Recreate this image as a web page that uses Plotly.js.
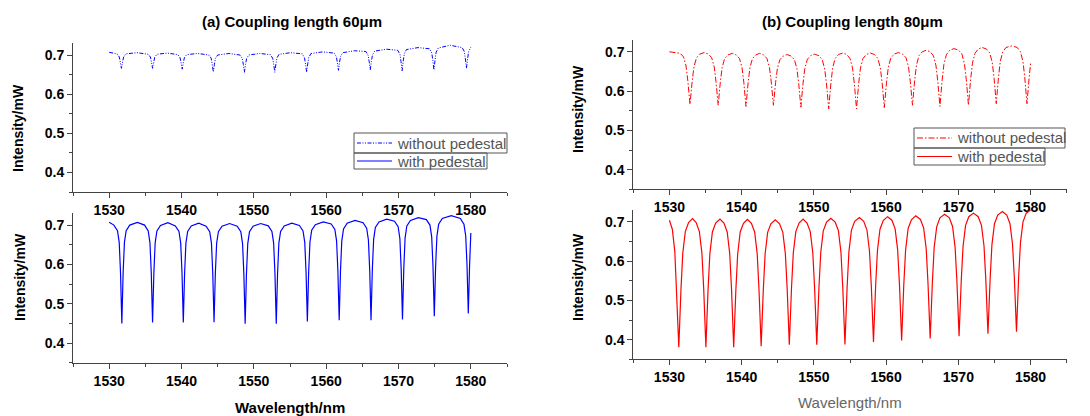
<!DOCTYPE html>
<html>
<head>
<meta charset="utf-8">
<script src="https://cdn.plot.ly/plotly-3.0.1.min.js"></script>
<style>html,body{margin:0;padding:0;background:#fff;}#chart{width:1090px;height:416px;}</style>
</head>
<body>
<div id="chart"></div>
<script>
// ---------- data ----------
const panelTitles = ['(a) Coupling length 60\u03bcm', '(b) Coupling length 80\u03bcm'];
const seriesNames = ['without pedestal', 'with pedestal'];
const xTickVals = [1530, 1540, 1550, 1560, 1570, 1580];
const yTickVals = [0.4, 0.5, 0.6, 0.7];

// (a) 60 um, without pedestal
const a60WithoutX = [1530,
 1531.1,1531.4,1531.55,1531.7,1531.85,1532.0,1532.3, 1533.85,
 1535.4,1535.7,1535.85,1536.0,1536.15,1536.3,1536.6, 1538.05,
 1539.5,1539.8,1539.95,1540.1,1540.25,1540.4,1540.7, 1542.25,
 1543.8,1544.1,1544.25,1544.4,1544.55,1544.7,1545.0, 1546.55,
 1548.1,1548.4,1548.55,1548.7,1548.85,1549.0,1549.3, 1550.8,
 1552.3,1552.6,1552.75,1552.9,1553.05,1553.2,1553.5, 1555.1,
 1556.7,1557.0,1557.15,1557.3,1557.45,1557.6,1557.9, 1559.5,
 1561.1,1561.4,1561.55,1561.7,1561.85,1562.0,1562.3, 1563.9,
 1565.5,1565.8,1565.95,1566.1,1566.25,1566.4,1566.7, 1568.3,
 1569.9,1570.2,1570.35,1570.5,1570.65,1570.8,1571.1, 1572.7,
 1574.3,1574.6,1574.75,1574.9,1575.05,1575.2,1575.5, 1577.15,
 1578.8,1579.1,1579.25,1579.4,1579.55,1579.7,1580.0];
const a60WithoutY = [0.707,
 0.703,0.695,0.682,0.666,0.682,0.695,0.703, 0.706,
 0.702,0.695,0.682,0.666,0.681,0.694,0.702, 0.705,
 0.701,0.693,0.680,0.664,0.680,0.693,0.701, 0.704,
 0.700,0.692,0.676,0.657,0.676,0.692,0.700, 0.704,
 0.700,0.691,0.676,0.656,0.676,0.691,0.700, 0.704,
 0.701,0.692,0.676,0.656,0.677,0.693,0.702, 0.706,
 0.703,0.693,0.677,0.656,0.677,0.694,0.704, 0.708,
 0.705,0.696,0.681,0.661,0.682,0.697,0.706, 0.711,
 0.709,0.699,0.683,0.662,0.684,0.700,0.710, 0.715,
 0.712,0.702,0.683,0.660,0.684,0.703,0.714, 0.719,
 0.716,0.705,0.686,0.662,0.687,0.707,0.718, 0.725,
 0.719,0.709,0.690,0.666,0.690,0.709,0.720];

// (a) 60 um, with pedestal
const a60WithX = [1530,
 1530.65,1531.15,1531.39,1531.57,1531.75,1531.93,1532.11,1532.35,1532.85, 1533.9,
 1534.9,1535.4,1535.64,1535.82,1536.0,1536.18,1536.36,1536.6,1537.1, 1538.12,
 1539.15,1539.65,1539.89,1540.07,1540.25,1540.43,1540.61,1540.85,1541.35, 1542.38,
 1543.4,1543.9,1544.14,1544.32,1544.5,1544.68,1544.86,1545.1,1545.6, 1546.65,
 1547.7,1548.2,1548.44,1548.62,1548.8,1548.98,1549.16,1549.4,1549.9, 1550.95,
 1552.0,1552.5,1552.74,1552.92,1553.1,1553.28,1553.46,1553.7,1554.2, 1555.25,
 1556.3,1556.8,1557.04,1557.22,1557.4,1557.58,1557.76,1558.0,1558.5, 1559.6,
 1560.7,1561.2,1561.44,1561.62,1561.8,1561.98,1562.16,1562.4,1562.9, 1564.0,
 1565.1,1565.6,1565.84,1566.02,1566.2,1566.38,1566.56,1566.8,1567.3, 1568.38,
 1569.45,1569.95,1570.19,1570.37,1570.55,1570.73,1570.91,1571.15,1571.65, 1572.75,
 1573.85,1574.35,1574.59,1574.77,1574.95,1575.13,1575.31,1575.55,1576.05, 1577.3,
 1578.55,1579.05,1579.29,1579.47,1579.65,1579.83,1580.0];
const a60WithY = [0.707,
 0.700,0.686,0.656,0.579,0.450,0.579,0.656,0.686,0.700, 0.707,
 0.700,0.685,0.655,0.579,0.452,0.579,0.655,0.685,0.699, 0.706,
 0.698,0.684,0.654,0.578,0.452,0.578,0.654,0.684,0.698, 0.705,
 0.697,0.683,0.654,0.578,0.453,0.578,0.654,0.683,0.697, 0.704,
 0.697,0.683,0.653,0.576,0.449,0.576,0.653,0.683,0.697, 0.704,
 0.698,0.684,0.654,0.577,0.449,0.577,0.654,0.684,0.698, 0.705,
 0.699,0.685,0.656,0.580,0.455,0.581,0.657,0.687,0.701, 0.708,
 0.703,0.689,0.660,0.584,0.458,0.584,0.660,0.690,0.705, 0.712,
 0.706,0.692,0.662,0.585,0.458,0.586,0.663,0.694,0.708, 0.715,
 0.710,0.696,0.666,0.588,0.460,0.589,0.667,0.698,0.712, 0.719,
 0.714,0.700,0.670,0.594,0.468,0.595,0.672,0.702,0.717, 0.724,
 0.717,0.702,0.673,0.599,0.475,0.599,0.680];

// (b) 80 um, without pedestal
const b80WithoutX = [1530,
 1531.5,1531.95,1532.3,1532.55,1532.85,1533.15,1533.4,1533.75,1534.2, 1534.8,
 1535.4,1535.85,1536.2,1536.45,1536.75,1537.05,1537.3,1537.65,1538.1, 1538.7,
 1539.25,1539.7,1540.05,1540.3,1540.6,1540.9,1541.15,1541.5,1541.95, 1542.5,
 1543.05,1543.5,1543.85,1544.1,1544.4,1544.7,1544.95,1545.3,1545.75, 1546.3,
 1546.85,1547.3,1547.65,1547.9,1548.2,1548.5,1548.75,1549.1,1549.55, 1550.1,
 1550.7,1551.15,1551.5,1551.75,1552.05,1552.35,1552.6,1552.95,1553.4, 1554.0,
 1554.55,1555.0,1555.35,1555.6,1555.9,1556.2,1556.45,1556.8,1557.25, 1557.8,
 1558.4,1558.85,1559.2,1559.45,1559.75,1560.05,1560.3,1560.65,1561.1, 1561.7,
 1562.3,1562.75,1563.1,1563.35,1563.65,1563.95,1564.2,1564.55,1565.0, 1565.55,
 1566.1,1566.55,1566.9,1567.15,1567.45,1567.75,1568.0,1568.35,1568.8, 1569.4,
 1570.05,1570.5,1570.85,1571.1,1571.4,1571.7,1571.95,1572.3,1572.75, 1573.3,
 1573.9,1574.35,1574.7,1574.95,1575.25,1575.55,1575.8,1576.15,1576.6, 1577.4,
 1578.15,1578.6,1578.95,1579.2,1579.5,1579.8,1580.0];
const b80WithoutY = [0.700,
 0.696,0.687,0.664,0.626,0.566,0.625,0.662,0.685,0.694, 0.698,
 0.694,0.685,0.662,0.624,0.564,0.623,0.660,0.683,0.692, 0.696,
 0.692,0.683,0.660,0.622,0.561,0.622,0.660,0.683,0.692, 0.696,
 0.692,0.683,0.660,0.623,0.564,0.622,0.658,0.680,0.689, 0.693,
 0.689,0.680,0.657,0.619,0.559,0.620,0.658,0.681,0.690, 0.694,
 0.690,0.680,0.656,0.618,0.555,0.619,0.659,0.683,0.693, 0.697,
 0.693,0.683,0.659,0.619,0.555,0.619,0.659,0.683,0.693, 0.697,
 0.693,0.683,0.659,0.621,0.558,0.621,0.660,0.684,0.694, 0.698,
 0.694,0.685,0.662,0.624,0.564,0.627,0.666,0.690,0.700, 0.704,
 0.700,0.690,0.665,0.625,0.561,0.627,0.668,0.693,0.704, 0.708,
 0.704,0.694,0.669,0.629,0.564,0.630,0.671,0.696,0.707, 0.711,
 0.707,0.697,0.672,0.632,0.568,0.634,0.675,0.700,0.711, 0.715,
 0.711,0.700,0.675,0.634,0.568,0.634,0.670];

// (b) 80 um, with pedestal
const b80WithX = [1530,
 1530.4,1530.75,1531.0,1531.3,1531.6,1531.85,1532.2,1532.65, 1533.2,
 1533.7,1534.15,1534.5,1534.75,1535.05,1535.35,1535.6,1535.95,1536.4, 1537.0,
 1537.55,1538.0,1538.35,1538.6,1538.9,1539.2,1539.45,1539.8,1540.25, 1540.8,
 1541.35,1541.8,1542.15,1542.4,1542.7,1543.0,1543.25,1543.6,1544.05, 1544.65,
 1545.25,1545.7,1546.05,1546.3,1546.6,1546.9,1547.15,1547.5,1547.95, 1548.5,
 1549.05,1549.5,1549.85,1550.1,1550.4,1550.7,1550.95,1551.3,1551.75, 1552.35,
 1552.95,1553.4,1553.75,1554.0,1554.3,1554.6,1554.85,1555.2,1555.65, 1556.3,
 1556.9,1557.35,1557.7,1557.95,1558.25,1558.55,1558.8,1559.15,1559.6, 1560.2,
 1560.8,1561.25,1561.6,1561.85,1562.15,1562.45,1562.7,1563.05,1563.5, 1564.1,
 1564.75,1565.2,1565.55,1565.8,1566.1,1566.4,1566.65,1567.0,1567.45, 1568.1,
 1568.75,1569.2,1569.55,1569.8,1570.1,1570.4,1570.65,1571.0,1571.45, 1572.1,
 1572.75,1573.2,1573.55,1573.8,1574.1,1574.4,1574.65,1575.0,1575.45, 1576.1,
 1576.7,1577.15,1577.5,1577.75,1578.05,1578.35,1578.6,1578.95,1579.4,1580.0];
const b80WithY = [0.704,
 0.681,0.624,0.531,0.381,0.528,0.620,0.675,0.698, 0.708,
 0.698,0.675,0.620,0.528,0.381,0.528,0.619,0.674,0.697, 0.707,
 0.697,0.674,0.619,0.528,0.381,0.527,0.618,0.674,0.696, 0.706,
 0.696,0.674,0.619,0.528,0.383,0.528,0.618,0.673,0.695, 0.705,
 0.695,0.673,0.619,0.530,0.387,0.531,0.621,0.675,0.697, 0.707,
 0.697,0.675,0.621,0.531,0.387,0.532,0.622,0.677,0.699, 0.709,
 0.699,0.677,0.622,0.532,0.388,0.533,0.624,0.679,0.701, 0.711,
 0.701,0.679,0.625,0.537,0.394,0.538,0.627,0.681,0.703, 0.713,
 0.704,0.682,0.628,0.540,0.398,0.541,0.629,0.683,0.705, 0.715,
 0.706,0.684,0.631,0.543,0.403,0.545,0.634,0.687,0.710, 0.719,
 0.710,0.688,0.635,0.549,0.409,0.550,0.637,0.691,0.713, 0.722,
 0.713,0.691,0.639,0.553,0.415,0.555,0.642,0.695,0.717, 0.726,
 0.717,0.695,0.643,0.558,0.420,0.560,0.647,0.700,0.722,0.730];

// ---------- layout helpers ----------
const W = 1090, H = 416;
const px = v => v / W;
const py = v => 1 - v / H;
const FONT = 'Arial, "Liberation Sans", Helvetica, sans-serif';
const BLUE = '#0000ff', RED = '#ff0000';
const DASH_DDOT = '4px,1.5px,1px,1.5px,1px,1.5px';
const DASH_DOT = '6px,2px,1.5px,2px';

function xAxis(domain, anchor) {
  return {
    domain: domain, anchor: anchor, range: [1525, 1585],
    tickmode: 'array', tickvals: xTickVals,
    ticks: 'outside', ticklen: 5, tickwidth: 1, tickcolor: '#444',
    showline: true, linecolor: '#444', linewidth: 1,
    showgrid: false, zeroline: false,
    tickfont: {family: FONT, size: 14, weight: 700, color: '#000'},
    minor: {tick0: 1525, dtick: 5, ticks: 'outside', ticklen: 3, tickcolor: '#444', showgrid: false}
  };
}
function yAxis(domain, anchor) {
  return {
    domain: domain, anchor: anchor, range: [0.35, 0.73],
    tickmode: 'array', tickvals: yTickVals, ticktext: yTickVals.map(v => v.toFixed(1)),
    ticks: 'outside', ticklen: 5, tickwidth: 1, tickcolor: '#444',
    showline: true, linecolor: '#444', linewidth: 1,
    showgrid: false, zeroline: false,
    tickfont: {family: FONT, size: 14, weight: 700, color: '#000'},
    minor: {tick0: 0.35, dtick: 0.05, ticks: 'outside', ticklen: 3, tickcolor: '#444', showgrid: false}
  };
}

const traces = [
  {x: a60WithoutX, y: a60WithoutY, xaxis: 'x', yaxis: 'y', name: seriesNames[0], mode: 'lines',
   line: {color: BLUE, width: 1, dash: DASH_DDOT}, showlegend: false},
  {x: a60WithX, y: a60WithY, xaxis: 'x2', yaxis: 'y2', name: seriesNames[1], mode: 'lines',
   line: {color: BLUE, width: 1.2}, showlegend: false},
  {x: b80WithoutX, y: b80WithoutY, xaxis: 'x3', yaxis: 'y3', name: seriesNames[0], mode: 'lines',
   line: {color: RED, width: 1, dash: DASH_DOT}, showlegend: false},
  {x: b80WithX, y: b80WithY, xaxis: 'x4', yaxis: 'y4', name: seriesNames[1], mode: 'lines',
   line: {color: RED, width: 1.2}, showlegend: false}
];

const ax = [px(73), px(507)], bx = [px(633.3), px(1066.7)];
const layout = {
  width: W, height: H, margin: {l: 0, r: 0, t: 0, b: 0},
  paper_bgcolor: '#fff', plot_bgcolor: '#fff', showlegend: false,
  xaxis: xAxis(ax, 'y'), yaxis: yAxis([py(192), py(43.3)], 'x'),
  xaxis2: xAxis(ax, 'y2'), yaxis2: yAxis([py(362.7), py(213.3)], 'x2'),
  xaxis3: xAxis(bx, 'y3'), yaxis3: yAxis([py(189.3), py(40)], 'x3'),
  xaxis4: xAxis(bx, 'y4'), yaxis4: yAxis([py(359.3), py(210)], 'x4'),
  annotations: [], shapes: []
};

function note(text, x, y, opts) {
  layout.annotations.push(Object.assign({
    text: text, x: px(x), y: py(y), xref: 'paper', yref: 'paper', showarrow: false,
    xanchor: 'center', yanchor: 'middle'
  }, opts));
}
const boldFont = s => ({family: FONT, size: s, weight: 700, color: '#000'});

note(panelTitles[0], 291.7, 21, {font: boldFont(15)});
note(panelTitles[1], 852.5, 21, {font: boldFont(15)});
note('Intensity/mW', 18, 128, {textangle: -90, font: boldFont(14)});
note('Intensity/mW', 20, 277, {textangle: -90, font: boldFont(14)});
note('Intensity/mW', 578, 109, {textangle: -90, font: boldFont(14)});
note('Intensity/mW', 578, 277, {textangle: -90, font: boldFont(14)});
note('Wavelength/nm', 290, 407, {font: boldFont(15)});
note('Wavelength/nm', 850, 402, {font: {family: FONT, size: 15, color: '#666'}});

// Origin-style legends
function legendBox(x0, x1, y0, y1) {
  layout.shapes.push({type: 'rect', xref: 'paper', yref: 'paper', x0: px(x0), x1: px(x1), y0: py(y1), y1: py(y0),
    line: {color: '#555', width: 1}, fillcolor: 'rgba(0,0,0,0)'});
}
function legendEntry(xl, y, color, dash, label, boxR, yTop, yBot) {
  legendBox(xl - 3, boxR, yTop, yBot);
  layout.shapes.push({type: 'line', xref: 'paper', yref: 'paper', x0: px(xl), x1: px(xl + 35), y0: py(y), y1: py(y),
    line: {color: color, width: 1.2, dash: dash}});
  note(label, xl + 38, y, {xanchor: 'left', font: {family: FONT, size: 15, color: '#555'}});
}
legendEntry(357, 143, BLUE, DASH_DDOT, seriesNames[0], 507, 133, 153);
legendEntry(357, 161, BLUE, 'solid', seriesNames[1], 487, 153, 169);
legendEntry(917, 138, RED, DASH_DOT, seriesNames[0], 1065, 128, 148);
legendEntry(917, 156.5, RED, 'solid', seriesNames[1], 1045, 148, 165);

Plotly.newPlot('chart', traces, layout, {staticPlot: true, displayModeBar: false});
</script>
</body>
</html>
